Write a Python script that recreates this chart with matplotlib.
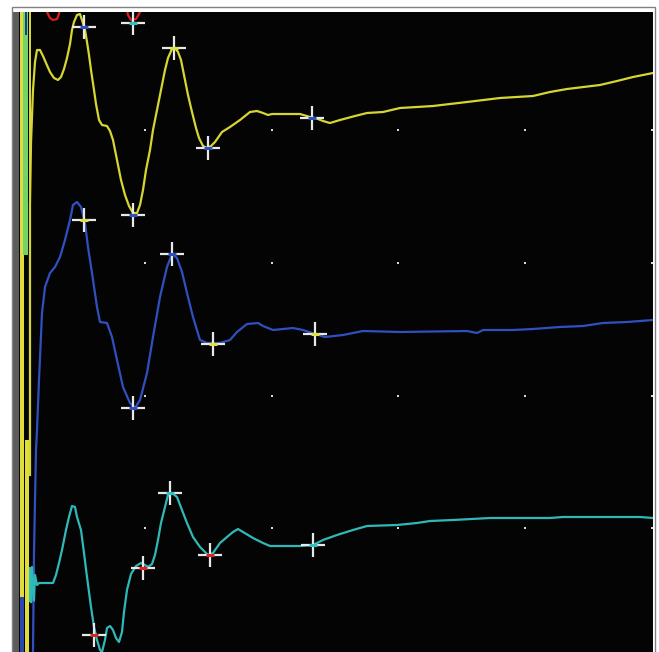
import matplotlib
matplotlib.use("Agg")
import matplotlib.pyplot as plt
from matplotlib.patches import Rectangle

# ---- time base (ms) ----
# Yellow trace (top)
yellow_t = [3.4, 3.4, 3.6, 4.0, 4.4, 4.8, 5.4, 6.0, 6.6, 7.4, 8.2, 9.0, 9.6, 10.2, 10.8, 11.4, 11.8,
            12.2, 12.8, 13.4, 13.8, 14.4, 14.8, 15.2, 15.6, 16.2, 16.6, 17.2, 17.8, 18.8, 19.4, 20.0,
            20.8, 21.6, 22.4, 23.2, 24.0, 24.8, 25.4, 26.0, 26.6, 27.4, 28.0, 28.8, 29.6, 30.4, 31.0,
            31.8, 32.4, 33.0, 33.6, 34.2, 35.0, 35.8, 36.6, 37.2, 38.0, 38.8, 39.6, 40.4, 41.8, 43.4,
            45.4, 47.4, 48.8, 50.0, 51.0, 51.8, 57.4, 59.4, 61.0, 62.0, 63.4, 65.4, 68.4, 70.8, 74.0,
            77.4, 80.8, 84.0, 87.4, 90.8, 97.4, 104.0, 107.4, 110.8, 117.4, 120.8, 124.0, 128.0]
yellow_v = [-363, -93, -31, 22, 50, 62, 62, 56, 49, 40, 34, 32, 35, 43, 54, 68, 82,
            90, 97, 98, 92, 82, 70, 57, 42, 22, 8, -8, -13, -14, -19, -28,
            -48, -68, -83, -94, -101, -101, -93, -78, -58, -38, -18, 2, 22, 42, 54,
            63, 64, 60, 52, 37, 17, 0, -16, -26, -34, -36, -34, -30, -20, -15,
            -8, 0, 1, -1, -3, -2, -2, -5, -7, -9, -11, -8, -4, -1, 0,
            4, 5, 6, 8, 10, 14, 16, 20, 23, 27, 31, 35, 39]
yellow_mk_t = [14.2, 24.0, 32.2, 39.0, 59.8]
yellow_mk_v = [85, -103, 64, -36, -6]
yellow_mk_c = ["#2f4fc0", "#2f4fc0", "#e0e040", "#2f4fc0", "#2f4fc0"]

# Blue trace (middle)
blue_t = [4.0, 4.2, 4.6, 4.8, 5.2, 5.8, 6.4, 7.4, 8.4, 9.4, 10.4, 11.4, 12.0, 12.8, 13.6, 14.4, 15.0,
          15.8, 16.8, 17.4, 18.8, 19.8, 20.8, 22.0, 23.4, 24.4, 25.4, 26.8, 28.0, 29.4, 30.8, 31.8,
          32.8, 33.8, 34.8, 36.0, 37.4, 38.8, 41.4, 43.4, 44.8, 46.8, 49.0, 50.0, 52.0, 54.0, 56.0,
          58.0, 60.4, 62.4, 66.0, 70.0, 77.4, 90.8, 92.8, 94.0, 100.0, 104.0, 109.4, 114.0, 118.0,
          122.8, 128.0]
blue_v = [-320, -221, -118, -98, -48, 19, 45, 59, 65, 75, 92, 112, 127, 130, 125, 109, 85,
          59, 25, 10, 9, -5, -28, -55, -71, -76, -68, -41, -5, 35, 65, 78,
          74, 60, 39, 15, -8, -11, -11, -8, 0, 8, 9, 6, 2, 3, 4,
          2, -2, -5, -3, 1, 0, 1, -1, 2, 2, 3, 5, 6, 9,
          10, 12]
blue_mk_t = [14.2, 24.0, 31.8, 40.0, 60.4]
blue_mk_v = [112, -76, 78, -12, -2]
blue_mk_c = ["#e0e040", "#2f4fc0", "#2f4fc0", "#e0e040", "#e0e040"]

# Cyan trace (bottom)
cyan_t = [3.6, 3.8, 4.2, 4.4, 4.8, 5.2, 5.6, 8.0, 8.6, 9.2, 9.8, 10.6, 11.2, 11.8, 12.4, 12.8, 13.6,
          14.2, 14.8, 15.6, 16.2, 16.8, 17.4, 17.8, 18.4, 18.8, 19.4, 20.0, 20.6, 21.2, 21.8, 22.2,
          22.8, 23.6, 24.6, 25.6, 26.4, 27.0, 27.8, 28.4, 29.0, 29.6, 30.4, 31.0, 31.8, 32.8, 33.8,
          34.8, 36.0, 37.4, 39.0, 40.0, 41.4, 42.8, 44.0, 45.0, 46.0, 48.0, 50.0, 51.4, 57.4, 60.0,
          62.0, 64.8, 68.0, 70.8, 76.8, 80.8, 83.4, 88.0, 95.4, 107.4, 110.0, 114.0, 125.4, 128.0]
cyan_v = [-50, -15, -48, -23, -33, -31, -31, -31, -23, -11, 2, 22, 35, 46, 45, 35, 22,
          -1, -25, -55, -75, -88, -98, -100, -88, -76, -74, -78, -86, -90, -80, -60,
          -38, -22, -14, -11, -13, -15, -12, -3, 12, 29, 45, 57, 59, 55, 42,
          29, 15, 5, -3, -1, 9, 15, 20, 23, 20, 14, 9, 6, 6, 7,
          12, 17, 22, 26, 27, 29, 31, 32, 34, 34, 35, 35, 35, 34]
cyan_mk_t = [16.2, 26.0, 31.4, 39.4, 60.0]
cyan_mk_v = [-83, -16, 59, -3, 7]
cyan_mk_c = ["#e02020", "#e02020", "#30c0c0", "#e02020", "#30c0c0"]

# Red trace (mostly above the visible window)
red_t = [6.4, 6.8, 7.4, 8.0, 8.8, 9.2, 9.4, 12.0, 15.0, 20.0, 22.6, 23.0, 23.6, 24.6, 25.2, 25.8, 28.0]
red_v = [4, 0, -6, -8, -7, -2, 4, 40, 60, 30, 6, -3, -8, -7, -2, 4, 30]
red_mk_t = [24.0]
red_mk_v = [-11]
red_mk_c = ["#30c0c0"]

# Trace baselines (display offsets)
offsets = {"red": 640, "yellow": 540, "blue": 320, "cyan": 100}

# Grid dots
grid_t = [26.4, 51.8, 77.0, 102.4, 127.8]
grid_v = [522, 389, 256, 124]

# Stimulus-artifact stripes at the left edge
stripe_t0 = [0.0, 1.4, 1.4, 2.0, 2.4, 3.15, 2.4]
stripe_t1 = [1.2, 2.1, 2.2, 3.0, 3.2, 3.6, 2.8]
stripe_v0 = [0, 55, 0, 397, 0, 177, 617]
stripe_v1 = [640, 640, 55, 640, 212, 640, 640]
stripe_c = ["#5c5c5c", "#e0dc3c", "#2a48b0", "#74d46c", "#e0dc3c", "#d8d838", "#1e3c8c"]

W, H, DPI = 659, 652, 100
fig = plt.figure(figsize=(W / DPI, H / DPI), dpi=DPI, facecolor="white")
ax = fig.add_axes([13 / W, 0, 640 / W, 640 / H])
ax.set_facecolor("#040404")
ax.set_xlim(0, 128)
ax.set_ylim(0, 640)
ax.set_xticks([])
ax.set_yticks([])
for s in ax.spines.values():
    s.set_visible(False)

# stripes
for a, b, lo, hi, c in zip(stripe_t0, stripe_t1, stripe_v0, stripe_v1, stripe_c):
    ax.bar(a, hi - lo, width=b - a, bottom=lo, align="edge", color=c, linewidth=0, zorder=1)

# grid dots
for gv in grid_v:
    ax.scatter(grid_t, [gv] * len(grid_t), s=4, color="#d8d8d8", marker="s", linewidths=0, zorder=2)

# cyan artifact fill near stimulus
ax.fill_between([3.2, 4.4], [offsets["cyan"] - 50, offsets["cyan"] - 50],
                [offsets["cyan"] - 15, offsets["cyan"] - 15], color="#30c0c0", linewidth=0, zorder=2)

def draw(t, v, off, color, mt, mv, mc):
    ax.plot(t, [x + off for x in v], color=color, lw=1.6, zorder=3, solid_joinstyle="round")
    ax.plot(mt, [x + off for x in mv], linestyle="none", marker="+", markersize=17,
            markeredgewidth=1.6, color="#e8e8e8", zorder=4)
    for x, y, c in zip(mt, mv, mc):
        ax.plot([x], [y + off], linestyle="none", marker="_", markersize=6,
                markeredgewidth=2.2, color=c, zorder=5)

draw(red_t, red_v, offsets["red"], "#d82020", red_mk_t, red_mk_v, red_mk_c)
draw(yellow_t, yellow_v, offsets["yellow"], "#d6d632", yellow_mk_t, yellow_mk_v, yellow_mk_c)
draw(blue_t, blue_v, offsets["blue"], "#3050c0", blue_mk_t, blue_mk_v, blue_mk_c)
draw(cyan_t, cyan_v, offsets["cyan"], "#30b8b8", cyan_mk_t, cyan_mk_v, cyan_mk_c)

# outer gray frame
fig.add_artist(Rectangle((11.5 / W, -0.01), (655 - 11.5) / W, (H - 6.5) / H + 0.01,
                         transform=fig.transFigure, fill=False, edgecolor="#808080", lw=1.0))

fig.savefig("out.png", dpi=DPI, facecolor="white")
